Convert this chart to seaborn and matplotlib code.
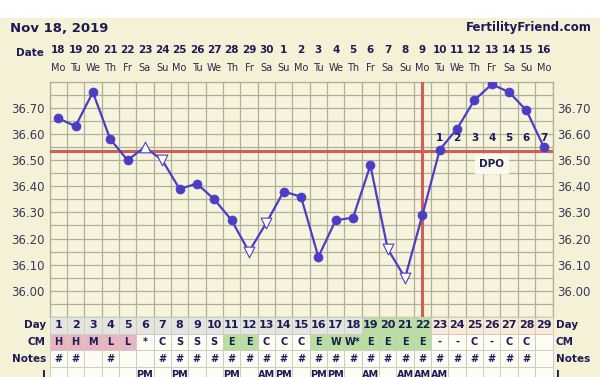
import numpy as np
import pandas as pd
import seaborn as sns
import matplotlib.pyplot as plt
from matplotlib.patches import Rectangle

# chart data
days = list(range(1, 30))
dates = ['18', '19', '20', '21', '22', '23', '24', '25', '26', '27', '28', '29', '30',
         '1', '2', '3', '4', '5', '6', '7', '8', '9', '10', '11', '12', '13', '14', '15', '16']
weekdays = ['Mo', 'Tu', 'We', 'Th', 'Fr', 'Sa', 'Su'] * 4 + ['Mo']
temps = [36.66, 36.63, 36.76, 36.58, 36.50, 36.55, 36.50, 36.39, 36.41, 36.35,
         36.27, 36.15, 36.26, 36.38, 36.36, 36.13, 36.27, 36.28, 36.48, 36.16,
         36.05, 36.29, 36.54, 36.62, 36.73, 36.79, 36.76, 36.69, 36.55]
open_up = [6]
open_down = [7, 12, 13, 20, 21]
coverline = 36.535
ovulation_day = 22
dpo_days = [23, 24, 25, 26, 27, 28, 29]
dpo_labels = ['1', '2', '3', '4', '5', '6', '7']
cm = ['H', 'H', 'M', 'L', 'L', '*', 'C', 'S', 'S', 'S', 'E', 'E', 'C', 'C', 'C',
      'E', 'W', 'W*', 'E', 'E', 'E', 'E', '-', '-', 'C', '-', 'C', 'C', '']
notes = ['#', '#', '', '#', '', ''] + ['#'] * 22 + ['']
times = ['', '', '', '', '', 'PM', '', 'PM', '', '', 'PM', '', 'AM', 'PM', '',
         'PM', 'PM', '', 'AM', '', 'AM', 'AM', 'AM', '', '', '', '', '', '']

df = pd.DataFrame({'day': days, 'temp': temps})
df['kind'] = 'filled'
df.loc[df.day.isin(open_up), 'kind'] = 'up'
df.loc[df.day.isin(open_down), 'kind'] = 'down'

W, H = 600, 377
navy = '#1c1c55'
blue = '#4a3ec6'
red = '#cf5d58'
cream = '#f5f1d6'
gridc = '#b3ae9c'

sns.set_theme(style='white')
plt.rcParams['font.family'] = ['DejaVu Sans']

fig = plt.figure(figsize=(6, 3.77), dpi=100)
fig.patch.set_facecolor(cream)
fig.patches.append(Rectangle((0, 1 - 18 / H), 1, 18 / H, transform=fig.transFigure,
                             facecolor='white', edgecolor='none', zorder=-1))

x0, x1 = 49.5, 552.5
ytop, ybot = 81.7, 317
ax = fig.add_axes([x0 / W, 1 - ybot / H, (x1 - x0) / W, (ybot - ytop) / H])
ax.set_facecolor('#f7f4dd')

sns.lineplot(data=df, x='day', y='temp', color=blue, lw=1.6, ax=ax, zorder=4)
sns.scatterplot(data=df[df.kind == 'filled'], x='day', y='temp', color=blue, s=42,
                edgecolor=blue, linewidth=0.5, ax=ax, zorder=5)
sns.scatterplot(data=df[df.kind == 'up'], x='day', y='temp', marker='^', color='white', s=60,
                edgecolor=blue, linewidth=0.8, ax=ax, zorder=5)
sns.scatterplot(data=df[df.kind == 'down'], x='day', y='temp', marker='v', color='white', s=60,
                edgecolor=blue, linewidth=0.8, ax=ax, zorder=5)

ax.axhline(coverline, color=red, lw=2.2, zorder=3)
ax.axvline(ovulation_day, color=red, lw=2.2, zorder=3)

ax.set_xlim(0.5, 29.5)
ax.set_ylim(35.90, 36.80)
ax.set_xticks(np.arange(0.5, 30, 1))
ax.set_xticklabels([])
ax.set_yticks(np.arange(36.0, 36.75, 0.1))
ax.set_yticklabels([f'{v:.2f}' for v in np.arange(36.0, 36.75, 0.1)])
ax.set_yticks(np.arange(35.90, 36.81, 0.05), minor=True)
ax.grid(True, which='both', color=gridc, lw=0.9, zorder=0)
ax.set_axisbelow(True)
ax.tick_params(axis='y', which='both', length=0, labelsize=8.5, labelcolor='#3a3a5a',
               labelleft=True, labelright=True, pad=3.5)
ax.tick_params(axis='x', length=0)
ax.set_xlabel('')
ax.set_ylabel('')
for s in ax.spines.values():
    s.set_color(gridc)
    s.set_linewidth(0.9)

for d, lab in zip(dpo_days, dpo_labels):
    ax.text(d, 36.585, lab, ha='center', va='center', fontsize=7.5, fontweight='bold',
            color=navy, zorder=6)
ax.text(26, 36.485, 'DPO', ha='center', va='center', fontsize=7.5, fontweight='bold', color=navy,
        zorder=6, bbox=dict(boxstyle='square,pad=0.45', facecolor='#fbf9ec', edgecolor='none'))

# header
fig.text(10 / W, 1 - 28 / H, 'Nov 18, 2019', fontsize=9.5, fontweight='bold', color=navy,
         va='center', ha='left')
fig.text(592 / W, 1 - 28 / H, 'FertilityFriend.com', fontsize=8.5, fontweight='bold',
         color=navy, va='center', ha='right')
fig.text(44 / W, 1 - 53 / H, 'Date', fontsize=7.5, fontweight='bold', color=navy,
         va='center', ha='right')
for d, dt, wd in zip(days, dates, weekdays):
    xf = (x0 + (x1 - x0) * (d - 0.5) / 29) / W
    fig.text(xf, 1 - 50 / H, dt, fontsize=7.5, fontweight='bold', color=navy,
             ha='center', va='center')
    fig.text(xf, 1 - 68 / H, wd, fontsize=7, color='#2a2a4a', ha='center', va='center')

# table under the chart
rowh = 16.6
tab = fig.add_axes([0, 0, 1, (H - ybot) / H])
tab.set_xlim(0, W)
tab.set_ylim(H, ybot)
tab.axis('off')
green = '#b7df9f'
row_names = ['Day', 'CM', 'Notes', 'I']
for r, name in enumerate(row_names):
    yc = ybot + rowh * (r + 0.5)
    tab.text(46, yc, name, ha='right', va='center', fontsize=7.5, fontweight='bold', color=navy)
    tab.text(556, yc, name, ha='left', va='center', fontsize=7.5, fontweight='bold', color=navy)

cw = (x1 - x0) / 29
for i, d in enumerate(days):
    xl = x0 + cw * i
    if d <= 18:
        dc = '#e4e4e0'
    elif d <= 22:
        dc = green
    else:
        dc = '#fbe8d6'
    if d <= 5:
        cc = '#e8b6c2'
    elif d in (11, 12) or 16 <= d <= 22:
        cc = green
    else:
        cc = '#fcfbf4'
    fills = [dc, cc, '#fcfbf4', '#fcfbf4']
    texts = [str(d), cm[i], notes[i], times[i]]
    for r in range(4):
        yt = ybot + rowh * r
        tab.add_patch(Rectangle((xl, yt), cw, rowh, facecolor=fills[r], edgecolor='#cfcbbf', lw=0.7))
        if texts[r]:
            fs = 8 if r == 0 else 7
            tab.text(xl + cw / 2, yt + rowh / 2, texts[r], ha='center', va='center',
                     fontsize=fs, fontweight='bold', color=navy)

fig.savefig('out.png', dpi=100, facecolor=fig.get_facecolor())
